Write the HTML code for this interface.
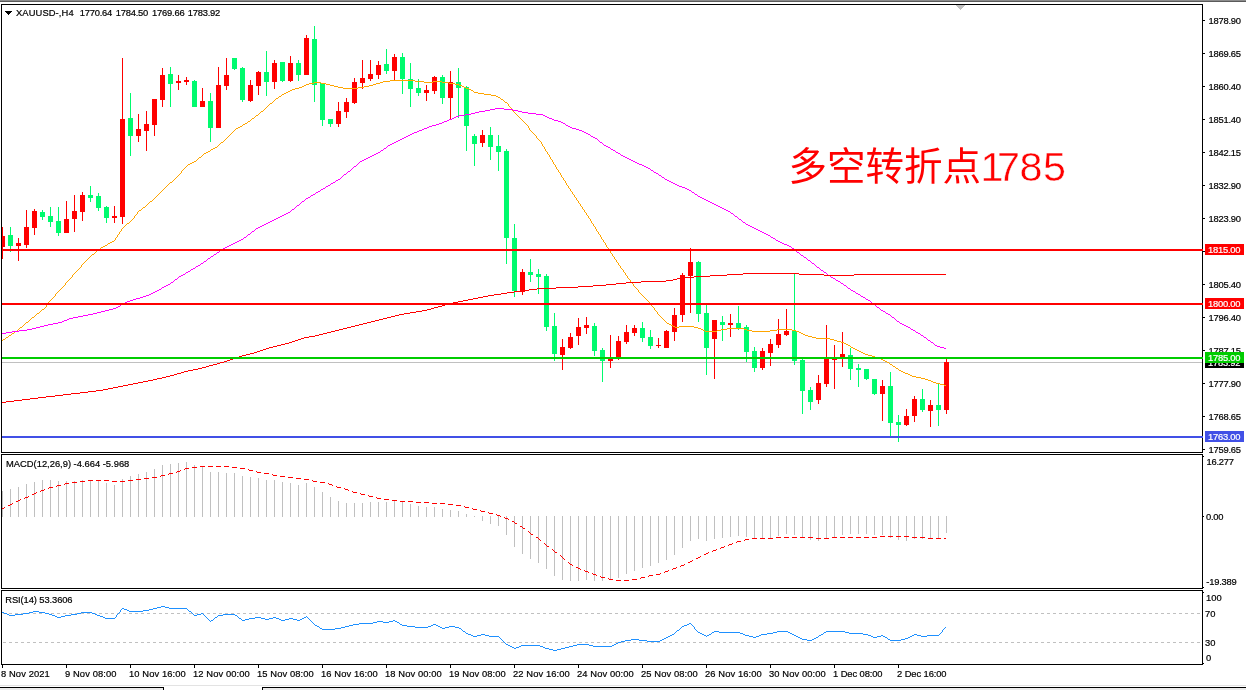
<!DOCTYPE html>
<html lang="zh"><head><meta charset="utf-8"><title>XAUUSD H4</title>
<style>html,body{margin:0;padding:0;background:#fff;overflow:hidden}svg{display:block}text{font-family:"Liberation Sans","Noto Sans CJK SC",sans-serif;font-size:9.37px;fill:#000;stroke:#000;stroke-width:0.2px}.n{letter-spacing:-0.22px}.w{fill:#fff;stroke:#fff;letter-spacing:-0.22px}.big{font-size:38px;fill:#ff0000;stroke:none;letter-spacing:0;font-family:"Liberation Sans","Noto Sans CJK SC",sans-serif;font-weight:400}</style></head><body>
<svg width="1246" height="690" viewBox="0 0 1246 690" style="will-change:transform">
<rect width="1246" height="690" fill="#fff"/>
<g shape-rendering="crispEdges">
<rect x="0" y="0" width="1246" height="1" fill="#8c8c8c"/>
<rect x="0" y="1" width="1246" height="1" fill="#5a5a5a"/>
<rect x="0" y="685" width="1246" height="1" fill="#e3e3e3"/>
<rect x="0" y="687" width="164" height="3" fill="#ececec"/>
<rect x="0" y="687" width="164" height="1" fill="#000"/>
<rect x="163" y="687" width="1" height="3" fill="#000"/>
<rect x="262" y="687" width="984" height="3" fill="#ececec"/>
<rect x="262" y="687" width="984" height="1" fill="#000"/>
<rect x="262" y="687" width="1" height="3" fill="#000"/>
<rect x="1" y="4" width="1202" height="1" fill="#000"/>
<rect x="1" y="452" width="1202" height="1" fill="#000"/>
<rect x="1" y="4" width="1" height="449" fill="#000"/>
<rect x="1202" y="4" width="1" height="449" fill="#000"/>
<rect x="1" y="454" width="1202" height="1" fill="#000"/>
<rect x="1" y="588" width="1202" height="1" fill="#000"/>
<rect x="1" y="454" width="1" height="135" fill="#000"/>
<rect x="1202" y="454" width="1" height="135" fill="#000"/>
<rect x="1" y="590" width="1202" height="1" fill="#000"/>
<rect x="1" y="664" width="1202" height="1" fill="#000"/>
<rect x="1" y="590" width="1" height="75" fill="#000"/>
<rect x="1202" y="590" width="1" height="75" fill="#000"/>
<rect x="956" y="5" width="9" height="1" fill="#c0c0c0"/>
<rect x="957" y="6" width="7" height="1" fill="#c0c0c0"/>
<rect x="958" y="7" width="5" height="1" fill="#c0c0c0"/>
<rect x="959" y="8" width="3" height="1" fill="#c0c0c0"/>
<rect x="960" y="9" width="1" height="1" fill="#c0c0c0"/>
<rect x="5" y="11" width="7" height="1" fill="#000"/>
<rect x="6" y="12" width="5" height="1" fill="#000"/>
<rect x="7" y="13" width="3" height="1" fill="#000"/>
<rect x="8" y="14" width="1" height="1" fill="#000"/>
<rect x="1203" y="20" width="2" height="1" fill="#000"/>
<rect x="1203" y="53" width="2" height="1" fill="#000"/>
<rect x="1203" y="86" width="2" height="1" fill="#000"/>
<rect x="1203" y="119" width="2" height="1" fill="#000"/>
<rect x="1203" y="152" width="2" height="1" fill="#000"/>
<rect x="1203" y="185" width="2" height="1" fill="#000"/>
<rect x="1203" y="218" width="2" height="1" fill="#000"/>
<rect x="1203" y="251" width="2" height="1" fill="#000"/>
<rect x="1203" y="284" width="2" height="1" fill="#000"/>
<rect x="1203" y="317" width="2" height="1" fill="#000"/>
<rect x="1203" y="350" width="2" height="1" fill="#000"/>
<rect x="1203" y="383" width="2" height="1" fill="#000"/>
<rect x="1203" y="416" width="2" height="1" fill="#000"/>
<rect x="1203" y="449" width="2" height="1" fill="#000"/>
<rect x="1203" y="456" width="1" height="1" fill="#000"/>
<rect x="1203" y="516" width="1" height="1" fill="#000"/>
<rect x="1203" y="587" width="1" height="1" fill="#000"/>
<rect x="1203" y="592" width="1" height="1" fill="#000"/>
<rect x="1203" y="663" width="1" height="1" fill="#000"/>
<rect x="2" y="665" width="1" height="3" fill="#000"/>
<rect x="66" y="665" width="1" height="3" fill="#000"/>
<rect x="130" y="665" width="1" height="3" fill="#000"/>
<rect x="194" y="665" width="1" height="3" fill="#000"/>
<rect x="258" y="665" width="1" height="3" fill="#000"/>
<rect x="322" y="665" width="1" height="3" fill="#000"/>
<rect x="386" y="665" width="1" height="3" fill="#000"/>
<rect x="450" y="665" width="1" height="3" fill="#000"/>
<rect x="514" y="665" width="1" height="3" fill="#000"/>
<rect x="578" y="665" width="1" height="3" fill="#000"/>
<rect x="642" y="665" width="1" height="3" fill="#000"/>
<rect x="706" y="665" width="1" height="3" fill="#000"/>
<rect x="770" y="665" width="1" height="3" fill="#000"/>
<rect x="834" y="665" width="1" height="3" fill="#000"/>
<rect x="898" y="665" width="1" height="3" fill="#000"/>
<rect x="2" y="362" width="1200" height="1" fill="#c0c0c0"/>
<rect x="2" y="227" width="1" height="32" fill="#ff0000"/>
<rect x="2" y="236" width="3" height="11" fill="#ff0000"/>
<rect x="10" y="227" width="1" height="25" fill="#00fb6e"/>
<rect x="8" y="235" width="5" height="11" fill="#00fb6e"/>
<rect x="18" y="238" width="1" height="23" fill="#ff0000"/>
<rect x="16" y="243" width="5" height="3" fill="#ff0000"/>
<rect x="26" y="210" width="1" height="38" fill="#ff0000"/>
<rect x="24" y="227" width="5" height="18" fill="#ff0000"/>
<rect x="34" y="209" width="1" height="26" fill="#ff0000"/>
<rect x="32" y="211" width="5" height="17" fill="#ff0000"/>
<rect x="42" y="210" width="1" height="10" fill="#00fb6e"/>
<rect x="40" y="212" width="5" height="5" fill="#00fb6e"/>
<rect x="50" y="207" width="1" height="20" fill="#00fb6e"/>
<rect x="48" y="216" width="5" height="6" fill="#00fb6e"/>
<rect x="58" y="207" width="1" height="29" fill="#00fb6e"/>
<rect x="56" y="221" width="5" height="12" fill="#00fb6e"/>
<rect x="66" y="201" width="1" height="32" fill="#ff0000"/>
<rect x="64" y="219" width="5" height="14" fill="#ff0000"/>
<rect x="74" y="195" width="1" height="37" fill="#ff0000"/>
<rect x="72" y="211" width="5" height="8" fill="#ff0000"/>
<rect x="82" y="192" width="1" height="29" fill="#ff0000"/>
<rect x="80" y="195" width="5" height="17" fill="#ff0000"/>
<rect x="90" y="186" width="1" height="16" fill="#00fb6e"/>
<rect x="88" y="195" width="5" height="3" fill="#00fb6e"/>
<rect x="98" y="193" width="1" height="18" fill="#00fb6e"/>
<rect x="96" y="196" width="5" height="12" fill="#00fb6e"/>
<rect x="106" y="206" width="1" height="17" fill="#00fb6e"/>
<rect x="104" y="207" width="5" height="11" fill="#00fb6e"/>
<rect x="114" y="206" width="1" height="17" fill="#ff0000"/>
<rect x="112" y="216" width="5" height="2" fill="#ff0000"/>
<rect x="122" y="58" width="1" height="166" fill="#ff0000"/>
<rect x="120" y="119" width="5" height="98" fill="#ff0000"/>
<rect x="130" y="93" width="1" height="63" fill="#00fb6e"/>
<rect x="128" y="118" width="5" height="18" fill="#00fb6e"/>
<rect x="138" y="114" width="1" height="28" fill="#ff0000"/>
<rect x="136" y="129" width="5" height="7" fill="#ff0000"/>
<rect x="146" y="111" width="1" height="40" fill="#ff0000"/>
<rect x="144" y="124" width="5" height="7" fill="#ff0000"/>
<rect x="154" y="99" width="1" height="37" fill="#ff0000"/>
<rect x="152" y="99" width="5" height="26" fill="#ff0000"/>
<rect x="162" y="68" width="1" height="39" fill="#ff0000"/>
<rect x="160" y="75" width="5" height="25" fill="#ff0000"/>
<rect x="170" y="67" width="1" height="40" fill="#00fb6e"/>
<rect x="168" y="74" width="5" height="10" fill="#00fb6e"/>
<rect x="178" y="75" width="1" height="15" fill="#ff0000"/>
<rect x="176" y="81" width="5" height="2" fill="#ff0000"/>
<rect x="186" y="77" width="1" height="8" fill="#ff0000"/>
<rect x="184" y="80" width="5" height="2" fill="#ff0000"/>
<rect x="194" y="80" width="1" height="27" fill="#00fb6e"/>
<rect x="192" y="81" width="5" height="26" fill="#00fb6e"/>
<rect x="202" y="88" width="1" height="19" fill="#ff0000"/>
<rect x="200" y="101" width="5" height="6" fill="#ff0000"/>
<rect x="210" y="93" width="1" height="49" fill="#00fb6e"/>
<rect x="208" y="101" width="5" height="27" fill="#00fb6e"/>
<rect x="218" y="67" width="1" height="61" fill="#ff0000"/>
<rect x="216" y="85" width="5" height="43" fill="#ff0000"/>
<rect x="226" y="58" width="1" height="32" fill="#ff0000"/>
<rect x="224" y="75" width="5" height="11" fill="#ff0000"/>
<rect x="234" y="58" width="1" height="12" fill="#00fb6e"/>
<rect x="232" y="58" width="5" height="11" fill="#00fb6e"/>
<rect x="242" y="67" width="1" height="35" fill="#00fb6e"/>
<rect x="240" y="68" width="5" height="32" fill="#00fb6e"/>
<rect x="250" y="80" width="1" height="22" fill="#ff0000"/>
<rect x="248" y="85" width="5" height="16" fill="#ff0000"/>
<rect x="258" y="71" width="1" height="24" fill="#ff0000"/>
<rect x="256" y="72" width="5" height="14" fill="#ff0000"/>
<rect x="266" y="51" width="1" height="45" fill="#00fb6e"/>
<rect x="264" y="72" width="5" height="10" fill="#00fb6e"/>
<rect x="274" y="60" width="1" height="29" fill="#ff0000"/>
<rect x="272" y="63" width="5" height="19" fill="#ff0000"/>
<rect x="282" y="62" width="1" height="20" fill="#00fb6e"/>
<rect x="280" y="62" width="5" height="19" fill="#00fb6e"/>
<rect x="290" y="56" width="1" height="26" fill="#ff0000"/>
<rect x="288" y="63" width="5" height="18" fill="#ff0000"/>
<rect x="298" y="60" width="1" height="21" fill="#00fb6e"/>
<rect x="296" y="63" width="5" height="12" fill="#00fb6e"/>
<rect x="306" y="35" width="1" height="40" fill="#ff0000"/>
<rect x="304" y="38" width="5" height="37" fill="#ff0000"/>
<rect x="314" y="26" width="1" height="76" fill="#00fb6e"/>
<rect x="312" y="39" width="5" height="46" fill="#00fb6e"/>
<rect x="322" y="83" width="1" height="43" fill="#00fb6e"/>
<rect x="320" y="83" width="5" height="37" fill="#00fb6e"/>
<rect x="330" y="119" width="1" height="8" fill="#00fb6e"/>
<rect x="328" y="119" width="5" height="5" fill="#00fb6e"/>
<rect x="338" y="102" width="1" height="25" fill="#ff0000"/>
<rect x="336" y="111" width="5" height="13" fill="#ff0000"/>
<rect x="346" y="98" width="1" height="20" fill="#ff0000"/>
<rect x="344" y="102" width="5" height="10" fill="#ff0000"/>
<rect x="354" y="78" width="1" height="26" fill="#ff0000"/>
<rect x="352" y="82" width="5" height="21" fill="#ff0000"/>
<rect x="362" y="60" width="1" height="29" fill="#ff0000"/>
<rect x="360" y="78" width="5" height="5" fill="#ff0000"/>
<rect x="370" y="60" width="1" height="21" fill="#ff0000"/>
<rect x="368" y="74" width="5" height="5" fill="#ff0000"/>
<rect x="378" y="61" width="1" height="18" fill="#ff0000"/>
<rect x="376" y="65" width="5" height="10" fill="#ff0000"/>
<rect x="386" y="49" width="1" height="25" fill="#00fb6e"/>
<rect x="384" y="64" width="5" height="7" fill="#00fb6e"/>
<rect x="394" y="54" width="1" height="26" fill="#ff0000"/>
<rect x="392" y="57" width="5" height="14" fill="#ff0000"/>
<rect x="402" y="53" width="1" height="41" fill="#00fb6e"/>
<rect x="400" y="57" width="5" height="22" fill="#00fb6e"/>
<rect x="410" y="63" width="1" height="44" fill="#00fb6e"/>
<rect x="408" y="79" width="5" height="10" fill="#00fb6e"/>
<rect x="418" y="79" width="1" height="17" fill="#00fb6e"/>
<rect x="416" y="88" width="5" height="5" fill="#00fb6e"/>
<rect x="426" y="85" width="1" height="16" fill="#ff0000"/>
<rect x="424" y="90" width="5" height="3" fill="#ff0000"/>
<rect x="434" y="76" width="1" height="18" fill="#ff0000"/>
<rect x="432" y="77" width="5" height="14" fill="#ff0000"/>
<rect x="442" y="75" width="1" height="29" fill="#00fb6e"/>
<rect x="440" y="77" width="5" height="21" fill="#00fb6e"/>
<rect x="450" y="71" width="1" height="48" fill="#ff0000"/>
<rect x="448" y="82" width="5" height="16" fill="#ff0000"/>
<rect x="458" y="68" width="1" height="50" fill="#00fb6e"/>
<rect x="456" y="82" width="5" height="6" fill="#00fb6e"/>
<rect x="466" y="86" width="1" height="65" fill="#00fb6e"/>
<rect x="464" y="87" width="5" height="39" fill="#00fb6e"/>
<rect x="474" y="134" width="1" height="32" fill="#00fb6e"/>
<rect x="472" y="136" width="5" height="8" fill="#00fb6e"/>
<rect x="482" y="130" width="1" height="17" fill="#ff0000"/>
<rect x="480" y="135" width="5" height="8" fill="#ff0000"/>
<rect x="490" y="127" width="1" height="33" fill="#00fb6e"/>
<rect x="488" y="135" width="5" height="12" fill="#00fb6e"/>
<rect x="498" y="135" width="1" height="36" fill="#00fb6e"/>
<rect x="496" y="146" width="5" height="6" fill="#00fb6e"/>
<rect x="506" y="149" width="1" height="115" fill="#00fb6e"/>
<rect x="504" y="151" width="5" height="87" fill="#00fb6e"/>
<rect x="514" y="224" width="1" height="73" fill="#00fb6e"/>
<rect x="512" y="238" width="5" height="53" fill="#00fb6e"/>
<rect x="522" y="269" width="1" height="26" fill="#ff0000"/>
<rect x="520" y="272" width="5" height="20" fill="#ff0000"/>
<rect x="530" y="259" width="1" height="23" fill="#00fb6e"/>
<rect x="528" y="272" width="5" height="3" fill="#00fb6e"/>
<rect x="538" y="269" width="1" height="25" fill="#00fb6e"/>
<rect x="536" y="274" width="5" height="3" fill="#00fb6e"/>
<rect x="546" y="274" width="1" height="57" fill="#00fb6e"/>
<rect x="544" y="276" width="5" height="51" fill="#00fb6e"/>
<rect x="554" y="313" width="1" height="48" fill="#00fb6e"/>
<rect x="552" y="326" width="5" height="28" fill="#00fb6e"/>
<rect x="562" y="339" width="1" height="31" fill="#ff0000"/>
<rect x="560" y="347" width="5" height="8" fill="#ff0000"/>
<rect x="570" y="333" width="1" height="16" fill="#ff0000"/>
<rect x="568" y="337" width="5" height="11" fill="#ff0000"/>
<rect x="578" y="318" width="1" height="27" fill="#ff0000"/>
<rect x="576" y="327" width="5" height="9" fill="#ff0000"/>
<rect x="586" y="317" width="1" height="17" fill="#ff0000"/>
<rect x="584" y="325" width="5" height="3" fill="#ff0000"/>
<rect x="594" y="323" width="1" height="33" fill="#00fb6e"/>
<rect x="592" y="326" width="5" height="25" fill="#00fb6e"/>
<rect x="602" y="348" width="1" height="34" fill="#00fb6e"/>
<rect x="600" y="350" width="5" height="11" fill="#00fb6e"/>
<rect x="610" y="335" width="1" height="33" fill="#ff0000"/>
<rect x="608" y="359" width="5" height="2" fill="#ff0000"/>
<rect x="618" y="336" width="1" height="24" fill="#ff0000"/>
<rect x="616" y="341" width="5" height="18" fill="#ff0000"/>
<rect x="626" y="325" width="1" height="19" fill="#ff0000"/>
<rect x="624" y="332" width="5" height="10" fill="#ff0000"/>
<rect x="634" y="325" width="1" height="11" fill="#ff0000"/>
<rect x="632" y="328" width="5" height="5" fill="#ff0000"/>
<rect x="642" y="322" width="1" height="20" fill="#00fb6e"/>
<rect x="640" y="328" width="5" height="10" fill="#00fb6e"/>
<rect x="650" y="330" width="1" height="19" fill="#00fb6e"/>
<rect x="648" y="337" width="5" height="9" fill="#00fb6e"/>
<rect x="658" y="338" width="1" height="10" fill="#ff0000"/>
<rect x="656" y="345" width="5" height="1" fill="#ff0000"/>
<rect x="666" y="330" width="1" height="18" fill="#ff0000"/>
<rect x="664" y="331" width="5" height="17" fill="#ff0000"/>
<rect x="674" y="308" width="1" height="33" fill="#ff0000"/>
<rect x="672" y="315" width="5" height="17" fill="#ff0000"/>
<rect x="682" y="273" width="1" height="49" fill="#ff0000"/>
<rect x="680" y="275" width="5" height="40" fill="#ff0000"/>
<rect x="690" y="248" width="1" height="65" fill="#ff0000"/>
<rect x="688" y="262" width="5" height="14" fill="#ff0000"/>
<rect x="698" y="261" width="1" height="61" fill="#00fb6e"/>
<rect x="696" y="262" width="5" height="52" fill="#00fb6e"/>
<rect x="706" y="305" width="1" height="70" fill="#00fb6e"/>
<rect x="704" y="313" width="5" height="35" fill="#00fb6e"/>
<rect x="714" y="320" width="1" height="59" fill="#ff0000"/>
<rect x="712" y="320" width="5" height="19" fill="#ff0000"/>
<rect x="722" y="316" width="1" height="25" fill="#00fb6e"/>
<rect x="720" y="322" width="5" height="3" fill="#00fb6e"/>
<rect x="730" y="314" width="1" height="23" fill="#ff0000"/>
<rect x="728" y="323" width="5" height="2" fill="#ff0000"/>
<rect x="738" y="306" width="1" height="24" fill="#00fb6e"/>
<rect x="736" y="323" width="5" height="5" fill="#00fb6e"/>
<rect x="746" y="325" width="1" height="37" fill="#00fb6e"/>
<rect x="744" y="327" width="5" height="25" fill="#00fb6e"/>
<rect x="754" y="347" width="1" height="25" fill="#00fb6e"/>
<rect x="752" y="351" width="5" height="17" fill="#00fb6e"/>
<rect x="762" y="348" width="1" height="22" fill="#ff0000"/>
<rect x="760" y="351" width="5" height="17" fill="#ff0000"/>
<rect x="770" y="339" width="1" height="27" fill="#ff0000"/>
<rect x="768" y="344" width="5" height="9" fill="#ff0000"/>
<rect x="778" y="319" width="1" height="29" fill="#ff0000"/>
<rect x="776" y="334" width="5" height="11" fill="#ff0000"/>
<rect x="786" y="309" width="1" height="27" fill="#ff0000"/>
<rect x="784" y="331" width="5" height="4" fill="#ff0000"/>
<rect x="794" y="274" width="1" height="91" fill="#00fb6e"/>
<rect x="792" y="331" width="5" height="30" fill="#00fb6e"/>
<rect x="802" y="359" width="1" height="55" fill="#00fb6e"/>
<rect x="800" y="360" width="5" height="31" fill="#00fb6e"/>
<rect x="810" y="387" width="1" height="23" fill="#00fb6e"/>
<rect x="808" y="390" width="5" height="12" fill="#00fb6e"/>
<rect x="818" y="375" width="1" height="29" fill="#ff0000"/>
<rect x="816" y="383" width="5" height="17" fill="#ff0000"/>
<rect x="826" y="325" width="1" height="62" fill="#ff0000"/>
<rect x="824" y="357" width="5" height="27" fill="#ff0000"/>
<rect x="834" y="345" width="1" height="44" fill="#ff0000"/>
<rect x="832" y="359" width="5" height="1" fill="#ff0000"/>
<rect x="842" y="332" width="1" height="35" fill="#ff0000"/>
<rect x="840" y="354" width="5" height="3" fill="#ff0000"/>
<rect x="850" y="348" width="1" height="32" fill="#00fb6e"/>
<rect x="848" y="355" width="5" height="14" fill="#00fb6e"/>
<rect x="858" y="364" width="1" height="23" fill="#00fb6e"/>
<rect x="856" y="368" width="5" height="2" fill="#00fb6e"/>
<rect x="866" y="369" width="1" height="11" fill="#00fb6e"/>
<rect x="864" y="369" width="5" height="10" fill="#00fb6e"/>
<rect x="874" y="379" width="1" height="16" fill="#00fb6e"/>
<rect x="872" y="379" width="5" height="15" fill="#00fb6e"/>
<rect x="882" y="380" width="1" height="41" fill="#ff0000"/>
<rect x="880" y="386" width="5" height="8" fill="#ff0000"/>
<rect x="890" y="372" width="1" height="66" fill="#00fb6e"/>
<rect x="888" y="386" width="5" height="37" fill="#00fb6e"/>
<rect x="898" y="415" width="1" height="27" fill="#00fb6e"/>
<rect x="896" y="422" width="5" height="3" fill="#00fb6e"/>
<rect x="906" y="409" width="1" height="17" fill="#ff0000"/>
<rect x="904" y="416" width="5" height="9" fill="#ff0000"/>
<rect x="914" y="396" width="1" height="26" fill="#ff0000"/>
<rect x="912" y="399" width="5" height="17" fill="#ff0000"/>
<rect x="922" y="389" width="1" height="23" fill="#00fb6e"/>
<rect x="920" y="399" width="5" height="11" fill="#00fb6e"/>
<rect x="930" y="400" width="1" height="27" fill="#ff0000"/>
<rect x="928" y="405" width="5" height="6" fill="#ff0000"/>
<rect x="938" y="384" width="1" height="42" fill="#00fb6e"/>
<rect x="936" y="405" width="5" height="5" fill="#00fb6e"/>
<rect x="946" y="359" width="1" height="55" fill="#ff0000"/>
<rect x="944" y="362" width="5" height="48" fill="#ff0000"/>
</g>
<path fill="none" stroke="#ffa500" stroke-width="1" shape-rendering="crispEdges" d="M18 329.5h1M701 329.5h2M721 329.5h6M744 329.5h3M777 329.5h15M15 331.5h2M705 331.5h12M752 331.5h18M796 331.5h3M63 286.5h1M634 286.5h1M851 347.5h2M197 159.5h1M551 159.5h1M859 351.5h2M390 80.5h25M306 84.5h3M326 84.5h4M373 84.5h3M455 84.5h4M188 164.5h2M554 164.5h1M224 140.5h1M539 140.5h1M256 115.5h2M517 115.5h1M17 330.5h1M703 330.5h2M717 330.5h4M747 330.5h5M770 330.5h7M792 330.5h4M295 88.5h4M343 88.5h15M466 88.5h3M227 137.5h1M536 137.5h1M314 82.5h7M380 82.5h3M424 82.5h9M442 82.5h7M183 169.5h1M557 169.5h1M278 97.5h1M498 97.5h2M284 93.5h2M478 93.5h6M103 246.5h2M606 246.5h1M136 214.5h1M586 214.5h1M270 103.5h2M507 103.5h1M309 83.5h5M321 83.5h5M376 83.5h4M449 83.5h6M844 343.5h2M199 157.5h2M550 157.5h1M290 90.5h2M471 90.5h2M118 234.5h1M599 234.5h1M52 298.5h1M645 298.5h1M855 349.5h2M72 276.5h1M627 276.5h1M178 175.5h1M561 175.5h1M848 345.5h2M143 207.5h2M582 207.5h1M131 220.5h1M590 220.5h1M119 233.5h1M598 233.5h1M274 100.5h1M503 100.5h1M81 265.5h1M619 265.5h1M936 383.5h4M177 176.5h1M561 176.5h1M247 122.5h1M524 122.5h1M286 92.5h2M474 92.5h4M868 355.5h4M281 95.5h1M491 95.5h5M22 326.5h1M673 326.5h2M679 326.5h15M47 304.5h1M651 304.5h1M76 271.5h1M623 271.5h1M299 87.5h3M338 87.5h5M358 87.5h6M464 87.5h2M267 106.5h1M509 106.5h1M83 263.5h1M618 263.5h1M872 356.5h3M204 153.5h2M547 153.5h1M250 120.5h1M522 120.5h1M266 107.5h1M510 107.5h1M126 224.5h1M593 224.5h1M161 191.5h1M571 191.5h1M383 81.5h7M415 81.5h9M433 81.5h9M8 336.5h1M808 336.5h4M35 315.5h1M659 315.5h1M875 357.5h4M24 324.5h1M669 324.5h2M890 364.5h2M64 285.5h1M633 285.5h1M12 333.5h2M801 333.5h2M304 85.5h2M330 85.5h4M369 85.5h4M459 85.5h3M23 325.5h1M671 325.5h2M19 328.5h1M698 328.5h3M727 328.5h17M55 294.5h1M641 294.5h1M192 162.5h2M553 162.5h1M145 206.5h1M581 206.5h1M180 173.5h1M560 173.5h1M20 327.5h2M675 327.5h4M694 327.5h4M885 361.5h2M165 187.5h1M568 187.5h1M82 264.5h1M618 264.5h1M202 155.5h1M549 155.5h1M6 337.5h2M812 337.5h4M26 322.5h2M666 322.5h1M137 213.5h1M586 213.5h1M5 338.5h1M816 338.5h14M893 366.5h2M75 272.5h1M624 272.5h1M916 377.5h5M282 94.5h2M484 94.5h7M132 219.5h1M590 219.5h1M889 363.5h1M242 125.5h1M527 125.5h1M881 359.5h2M133 218.5h1M589 218.5h1M70 278.5h1M628 278.5h1M234 130.5h1M530 130.5h1M90 256.5h1M613 256.5h1M265 108.5h1M511 108.5h1M254 117.5h1M519 117.5h1M65 284.5h1M633 284.5h1M47 303.5h1M650 303.5h1M168 184.5h1M566 184.5h1M231 133.5h1M533 133.5h1M94 253.5h1M611 253.5h1M258 114.5h1M516 114.5h1M114 240.5h1M603 240.5h1M172 181.5h1M565 181.5h1M105 245.5h2M606 245.5h1M179 174.5h1M560 174.5h1M130 221.5h1M591 221.5h1M174 179.5h1M563 179.5h1M261 111.5h2M513 111.5h1M292 89.5h3M469 89.5h2M31 318.5h1M662 318.5h1M121 230.5h1M596 230.5h1M229 135.5h1M535 135.5h1M185 167.5h1M556 167.5h1M173 180.5h1M564 180.5h1M137 212.5h1M585 212.5h1M921 378.5h4M125 225.5h1M593 225.5h1M156 196.5h1M574 196.5h1M190 163.5h2M553 163.5h1M933 382.5h3M53 297.5h1M644 297.5h1M925 379.5h3M149 202.5h1M578 202.5h1M215 147.5h2M544 147.5h1M302 86.5h2M334 86.5h4M364 86.5h5M462 86.5h2M238 127.5h2M528 127.5h1M899 370.5h2M263 110.5h1M512 110.5h1M46 305.5h1M651 305.5h1M288 91.5h2M473 91.5h1M230 134.5h1M534 134.5h1M67 281.5h1M630 281.5h1M110 242.5h2M604 242.5h1M101 247.5h2M607 247.5h1M181 172.5h1M559 172.5h1M269 104.5h1M508 104.5h1M167 185.5h1M567 185.5h1M903 372.5h2M42 309.5h2M654 309.5h1M3 339.5h2M830 339.5h4M127 223.5h2M592 223.5h1M62 287.5h1M635 287.5h1M162 190.5h1M570 190.5h1M85 261.5h1M616 261.5h1M39 312.5h1M657 312.5h1M175 178.5h1M563 178.5h1M139 210.5h2M584 210.5h1M273 101.5h1M504 101.5h1M117 236.5h1M600 236.5h1M187 165.5h1M555 165.5h1M121 229.5h1M596 229.5h1M79 268.5h1M621 268.5h1M112 241.5h2M603 241.5h1M206 152.5h2M547 152.5h1M272 102.5h1M505 102.5h2M219 144.5h1M542 144.5h1M73 274.5h1M625 274.5h1M211 149.5h2M545 149.5h1M203 154.5h1M548 154.5h1M279 96.5h2M496 96.5h2M150 201.5h2M578 201.5h1M61 288.5h1M636 288.5h1M54 296.5h1M643 296.5h1M9 335.5h2M805 335.5h3M905 373.5h3M11 334.5h1M803 334.5h2M51 299.5h1M646 299.5h1M910 375.5h2M32 317.5h2M661 317.5h1M46 306.5h1M652 306.5h1M226 138.5h1M537 138.5h1M169 183.5h1M566 183.5h1M122 228.5h1M595 228.5h1M861 352.5h2M853 348.5h2M865 354.5h3M134 216.5h1M588 216.5h1M895 367.5h1M163 189.5h1M570 189.5h1M260 112.5h1M514 112.5h1M81 266.5h1M620 266.5h1M940 384.5h4M2 340.5h1M834 340.5h3M248 121.5h2M523 121.5h1M240 126.5h2M528 126.5h1M89 257.5h1M614 257.5h1M252 118.5h2M520 118.5h1M850 346.5h1M857 350.5h2M57 292.5h1M639 292.5h1M243 124.5h2M526 124.5h1M77 270.5h1M623 270.5h1M276 98.5h2M500 98.5h1M912 376.5h4M182 170.5h1M558 170.5h1M217 146.5h1M543 146.5h1M34 316.5h1M660 316.5h1M30 319.5h1M663 319.5h1M164 188.5h1M569 188.5h1M117 235.5h1M600 235.5h1M120 231.5h1M597 231.5h1M846 344.5h2M944 385.5h2M158 194.5h1M573 194.5h1M837 341.5h4M124 226.5h1M594 226.5h1M92 254.5h2M612 254.5h1M49 301.5h1M648 301.5h1M135 215.5h1M587 215.5h1M69 279.5h1M629 279.5h1M170 182.5h2M565 182.5h1M233 131.5h1M531 131.5h1M264 109.5h1M511 109.5h1M123 227.5h1M595 227.5h1M25 323.5h1M667 323.5h2M841 342.5h3M245 123.5h2M525 123.5h1M235 129.5h1M529 129.5h1M108 243.5h2M605 243.5h1M236 128.5h2M529 128.5h1M208 151.5h2M546 151.5h1M201 156.5h1M549 156.5h1M45 307.5h1M653 307.5h1M37 313.5h2M657 313.5h1M213 148.5h2M544 148.5h1M883 360.5h2M228 136.5h1M536 136.5h1M259 113.5h1M515 113.5h1M115 238.5h1M601 238.5h1M194 161.5h2M552 161.5h1M72 275.5h1M626 275.5h1M96 251.5h1M610 251.5h1M119 232.5h1M598 232.5h1M115 239.5h1M602 239.5h1M887 362.5h2M879 358.5h2M100 248.5h1M608 248.5h1M71 277.5h1M627 277.5h1M87 259.5h1M615 259.5h1M58 291.5h1M638 291.5h1M41 310.5h1M655 310.5h1M928 380.5h3M159 193.5h1M572 193.5h1M186 166.5h1M555 166.5h1M155 197.5h1M575 197.5h1M221 142.5h2M541 142.5h1M166 186.5h1M568 186.5h1M153 199.5h1M576 199.5h1M107 244.5h1M605 244.5h1M28 321.5h1M665 321.5h1M98 249.5h2M608 249.5h1M138 211.5h1M584 211.5h1M251 119.5h1M521 119.5h1M116 237.5h1M601 237.5h1M97 250.5h1M609 250.5h1M78 269.5h1M622 269.5h1M142 208.5h1M582 208.5h1M56 293.5h1M640 293.5h1M146 205.5h1M580 205.5h1M275 99.5h1M501 99.5h2M60 289.5h1M637 289.5h1M84 262.5h1M617 262.5h1M59 290.5h1M638 290.5h1M134 217.5h1M588 217.5h1M931 381.5h2M160 192.5h1M572 192.5h1M255 116.5h1M518 116.5h1M91 255.5h1M612 255.5h1M223 141.5h1M540 141.5h1M184 168.5h1M556 168.5h1M196 160.5h1M552 160.5h1M181 171.5h1M558 171.5h1M908 374.5h2M901 371.5h2M225 139.5h1M538 139.5h1M14 332.5h1M799 332.5h2M48 302.5h1M649 302.5h1M863 353.5h2M95 252.5h1M610 252.5h1M896 368.5h2M218 145.5h1M542 145.5h1M198 158.5h1M550 158.5h1M148 203.5h1M579 203.5h1M74 273.5h1M625 273.5h1M36 314.5h1M658 314.5h1M157 195.5h1M574 195.5h1M176 177.5h1M562 177.5h1M892 365.5h1M210 150.5h1M545 150.5h1M55 295.5h1M642 295.5h1M152 200.5h1M577 200.5h1M129 222.5h1M591 222.5h1M66 282.5h1M631 282.5h1M86 260.5h1M616 260.5h1M44 308.5h1M654 308.5h1M220 143.5h1M541 143.5h1M141 209.5h1M583 209.5h1M88 258.5h1M614 258.5h1M268 105.5h1M508 105.5h1M50 300.5h1M647 300.5h1M65 283.5h1M632 283.5h1M232 132.5h1M532 132.5h1M68 280.5h1M630 280.5h1M154 198.5h1M576 198.5h1M29 320.5h1M664 320.5h1M147 204.5h1M580 204.5h1M80 267.5h1M620 267.5h1M40 311.5h1M656 311.5h1M898 369.5h1"/>
<path fill="none" stroke="#ff00ff" stroke-width="1" shape-rendering="crispEdges" d="M921 335.5h2M398 140.5h2M598 140.5h1M235 242.5h2M780 242.5h2M316 192.5h2M692 192.5h2M432 125.5h4M566 125.5h2M490 109.5h5M504 109.5h9M444 121.5h3M558 121.5h3M121 304.5h2M874 304.5h1M270 221.5h2M742 221.5h1M479 111.5h6M518 111.5h4M36 327.5h4M908 327.5h2M333 182.5h2M671 182.5h2M376 153.5h2M618 153.5h2M406 136.5h2M591 136.5h2M78 316.5h5M891 316.5h1M383 149.5h1M611 149.5h2M6 332.5h6M916 332.5h2M243 238.5h1M773 238.5h2M402 138.5h2M595 138.5h2M88 314.5h5M888 314.5h2M442 122.5h2M561 122.5h2M404 137.5h2M593 137.5h2M266 223.5h2M745 223.5h1M127 301.5h3M870 301.5h1M166 285.5h2M844 285.5h2M323 188.5h2M685 188.5h2M105 310.5h4M881 310.5h2M320 190.5h1M689 190.5h2M439 123.5h3M563 123.5h2M171 282.5h2M840 282.5h1M101 311.5h4M883 311.5h2M359 162.5h1M635 162.5h2M168 284.5h2M843 284.5h1M19 330.5h8M913 330.5h2M216 253.5h1M799 253.5h1M290 211.5h1M728 211.5h2M67 319.5h2M895 319.5h1M208 258.5h2M806 258.5h1M422 129.5h2M576 129.5h3M465 114.5h6M536 114.5h7M325 187.5h1M682 187.5h3M485 110.5h5M513 110.5h5M210 257.5h1M804 257.5h2M356 165.5h1M642 165.5h2M282 215.5h2M734 215.5h1M220 250.5h2M795 250.5h1M294 208.5h1M722 208.5h2M372 155.5h2M621 155.5h2M173 281.5h1M838 281.5h2M196 266.5h2M816 266.5h1M286 213.5h2M731 213.5h2M280 216.5h2M735 216.5h2M940 347.5h4M188 271.5h2M823 271.5h1M93 313.5h4M886 313.5h2M459 115.5h6M543 115.5h2M297 205.5h2M716 205.5h2M394 142.5h2M600 142.5h2M204 261.5h2M810 261.5h1M386 147.5h1M608 147.5h2M73 317.5h5M892 317.5h2M384 148.5h2M610 148.5h1M48 324.5h5M902 324.5h2M378 152.5h2M616 152.5h2M213 255.5h1M801 255.5h2M475 112.5h4M522 112.5h6M244 237.5h2M771 237.5h2M250 233.5h1M764 233.5h2M390 144.5h2M603 144.5h1M170 283.5h1M841 283.5h2M143 296.5h3M861 296.5h2M935 345.5h2M239 240.5h2M776 240.5h2M341 177.5h1M662 177.5h2M262 225.5h2M748 225.5h2M123 303.5h2M872 303.5h2M12 331.5h7M915 331.5h1M113 308.5h3M879 308.5h1M248 234.5h2M766 234.5h2M928 340.5h2M381 150.5h2M613 150.5h2M937 346.5h3M931 342.5h2M414 132.5h3M584 132.5h2M471 113.5h4M528 113.5h8M32 328.5h4M910 328.5h1M408 135.5h2M590 135.5h1M308 197.5h2M700 197.5h2M247 235.5h1M768 235.5h2M252 231.5h2M760 231.5h2M301 202.5h1M710 202.5h2M417 131.5h2M582 131.5h2M2 333.5h4M918 333.5h2M321 189.5h2M687 189.5h2M140 297.5h3M863 297.5h2M313 194.5h2M695 194.5h2M343 175.5h1M659 175.5h2M387 146.5h1M606 146.5h2M133 299.5h3M866 299.5h2M305 199.5h1M704 199.5h2M44 325.5h4M904 325.5h2M62 321.5h2M897 321.5h2M164 286.5h2M846 286.5h1M193 268.5h2M819 268.5h1M136 298.5h4M865 298.5h1M185 273.5h1M826 273.5h1M69 318.5h4M894 318.5h1M424 128.5h3M572 128.5h4M419 130.5h3M579 130.5h3M177 278.5h1M833 278.5h2M40 326.5h4M906 326.5h2M255 229.5h1M756 229.5h2M151 293.5h2M856 293.5h2M374 154.5h2M620 154.5h1M146 295.5h3M860 295.5h1M331 183.5h2M673 183.5h2M456 116.5h3M545 116.5h2M178 277.5h1M831 277.5h2M53 323.5h5M900 323.5h2M429 126.5h3M568 126.5h2M109 309.5h4M880 309.5h1M288 212.5h2M730 212.5h1M495 108.5h9M201 263.5h2M812 263.5h2M258 227.5h2M752 227.5h2M251 232.5h1M762 232.5h2M155 291.5h2M853 291.5h2M58 322.5h4M899 322.5h1M175 279.5h2M835 279.5h1M268 222.5h2M743 222.5h2M264 224.5h2M746 224.5h2M436 124.5h3M565 124.5h1M299 204.5h1M714 204.5h2M217 252.5h2M797 252.5h2M291 210.5h1M726 210.5h2M296 206.5h1M718 206.5h2M179 276.5h2M830 276.5h1M161 288.5h1M848 288.5h2M278 217.5h2M737 217.5h1M181 275.5h2M828 275.5h2M64 320.5h3M896 320.5h1M350 170.5h1M651 170.5h2M396 141.5h2M599 141.5h1M924 337.5h2M447 120.5h2M554 120.5h4M392 143.5h2M602 143.5h1M306 198.5h2M702 198.5h2M927 339.5h1M370 156.5h2M623 156.5h2M198 265.5h2M815 265.5h1M27 329.5h5M911 329.5h2M203 262.5h1M811 262.5h1M231 244.5h2M784 244.5h3M157 290.5h2M851 290.5h2M347 172.5h1M654 172.5h2M357 164.5h1M639 164.5h3M214 254.5h2M800 254.5h1M304 200.5h1M706 200.5h2M310 196.5h1M698 196.5h2M227 246.5h2M789 246.5h2M400 139.5h2M597 139.5h1M260 226.5h2M750 226.5h2M362 160.5h2M631 160.5h2M120 305.5h1M875 305.5h1M452 118.5h2M549 118.5h3M207 259.5h1M807 259.5h1M206 260.5h1M808 260.5h2M83 315.5h5M890 315.5h1M923 336.5h1M449 119.5h3M552 119.5h2M125 302.5h2M871 302.5h1M130 300.5h3M868 300.5h2M354 166.5h2M644 166.5h2M311 195.5h2M697 195.5h1M97 312.5h4M885 312.5h1M153 292.5h2M855 292.5h1M366 158.5h2M627 158.5h2M292 209.5h2M724 209.5h2M195 267.5h1M817 267.5h2M274 219.5h2M739 219.5h2M223 248.5h2M792 248.5h2M284 214.5h2M733 214.5h1M358 163.5h1M637 163.5h2M186 272.5h2M824 272.5h2M191 269.5h2M820 269.5h1M219 251.5h1M796 251.5h1M338 179.5h2M665 179.5h2M211 256.5h2M803 256.5h1M300 203.5h1M712 203.5h2M388 145.5h2M604 145.5h2M427 127.5h2M570 127.5h2M344 174.5h2M658 174.5h1M353 167.5h1M646 167.5h2M237 241.5h2M778 241.5h2M256 228.5h2M754 228.5h2M454 117.5h2M547 117.5h2M318 191.5h2M691 191.5h1M335 181.5h1M669 181.5h2M241 239.5h2M775 239.5h1M229 245.5h2M787 245.5h2M149 294.5h2M858 294.5h2M162 287.5h2M847 287.5h1M118 306.5h2M876 306.5h1M190 270.5h1M821 270.5h2M183 274.5h2M827 274.5h1M412 133.5h2M586 133.5h2M326 186.5h2M679 186.5h3M348 171.5h2M653 171.5h1M174 280.5h1M836 280.5h2M233 243.5h2M782 243.5h2M364 159.5h2M629 159.5h2M330 184.5h1M675 184.5h2M336 180.5h2M667 180.5h2M410 134.5h2M588 134.5h2M933 343.5h1M342 176.5h1M661 176.5h1M340 178.5h1M664 178.5h1M159 289.5h2M850 289.5h1M276 218.5h2M738 218.5h1M254 230.5h1M758 230.5h2M944 348.5h2M272 220.5h2M741 220.5h1M368 157.5h2M625 157.5h2M360 161.5h2M633 161.5h2M225 247.5h2M791 247.5h1M295 207.5h1M720 207.5h2M346 173.5h1M656 173.5h2M302 201.5h2M708 201.5h2M352 168.5h1M648 168.5h2M116 307.5h2M877 307.5h2M351 169.5h1M650 169.5h1M328 185.5h2M677 185.5h2M920 334.5h1M222 249.5h1M794 249.5h1M246 236.5h1M770 236.5h1M200 264.5h1M814 264.5h1M934 344.5h1M930 341.5h1M926 338.5h1M315 193.5h1M694 193.5h1M380 151.5h1M615 151.5h1"/>
<path fill="none" stroke="#ff0000" stroke-width="1" shape-rendering="crispEdges" d="M606 284.5h10M743 273.5h56M133 383.5h5M727 274.5h16M799 274.5h25M854 274.5h92M371 321.5h4M453 302.5h5M556 287.5h22M71 393.5h9M522 290.5h7M673 279.5h4M537 288.5h19M710 275.5h17M824 275.5h30M224 361.5h3M162 377.5h4M395 315.5h4M578 286.5h15M616 283.5h10M416 311.5h6M55 395.5h8M507 292.5h7M319 334.5h4M143 381.5h5M108 388.5h5M359 324.5h4M442 305.5h3M680 277.5h14M22 399.5h8M301 338.5h3M494 294.5h7M254 352.5h3M230 359.5h3M404 313.5h6M213 364.5h4M327 332.5h4M30 398.5h8M488 295.5h6M626 282.5h15M593 285.5h13M128 384.5h5M63 394.5h8M449 303.5h4M529 289.5h8M148 380.5h5M260 350.5h3M383 318.5h4M468 299.5h5M220 362.5h4M410 312.5h6M46 396.5h9M103 389.5h5M285 343.5h4M295 340.5h3M431 308.5h3M266 348.5h3M242 355.5h4M641 281.5h25M202 367.5h4M181 372.5h3M88 391.5h8M292 341.5h3M123 385.5h5M273 346.5h4M694 276.5h16M347 327.5h4M379 319.5h4M463 300.5h5M188 370.5h5M677 278.5h3M170 375.5h4M38 397.5h8M309 336.5h6M14 400.5h8M96 390.5h7M281 344.5h4M427 309.5h4M323 333.5h4M239 356.5h3M6 401.5h8M483 296.5h5M367 322.5h4M80 392.5h8M177 373.5h4M157 378.5h5M391 316.5h4M118 386.5h5M269 347.5h4M331 331.5h4M138 382.5h5M514 291.5h8M458 301.5h5M438 306.5h4M184 371.5h4M355 325.5h4M250 353.5h4M166 376.5h4M227 360.5h3M335 330.5h4M399 314.5h5M304 337.5h5M209 365.5h4M478 297.5h5M298 339.5h3M445 304.5h4M257 351.5h3M233 358.5h3M501 293.5h6M153 379.5h4M387 317.5h4M113 387.5h5M434 307.5h4M263 349.5h3M246 354.5h4M2 402.5h4M375 320.5h4M473 298.5h5M422 310.5h5M277 345.5h4M193 369.5h5M363 323.5h4M174 374.5h3M343 328.5h4M217 363.5h3M198 368.5h4M289 342.5h3M351 326.5h4M206 366.5h3M339 329.5h4M236 357.5h3M666 280.5h7M315 335.5h4"/>
<g shape-rendering="crispEdges">
<rect x="2" y="249" width="1201" height="2" fill="#ff0000"/>
<rect x="2" y="303" width="1201" height="2" fill="#ff0000"/>
<rect x="2" y="357" width="1201" height="2" fill="#00cc00"/>
<rect x="2" y="436" width="1201" height="2" fill="#4150e6"/>
<rect x="2" y="491" width="1" height="26" fill="#c0c0c0"/>
<rect x="10" y="489" width="1" height="28" fill="#c0c0c0"/>
<rect x="18" y="487" width="1" height="30" fill="#c0c0c0"/>
<rect x="26" y="484" width="1" height="33" fill="#c0c0c0"/>
<rect x="34" y="482" width="1" height="35" fill="#c0c0c0"/>
<rect x="42" y="480" width="1" height="37" fill="#c0c0c0"/>
<rect x="50" y="480" width="1" height="37" fill="#c0c0c0"/>
<rect x="58" y="481" width="1" height="36" fill="#c0c0c0"/>
<rect x="66" y="481" width="1" height="36" fill="#c0c0c0"/>
<rect x="74" y="481" width="1" height="36" fill="#c0c0c0"/>
<rect x="82" y="480" width="1" height="37" fill="#c0c0c0"/>
<rect x="90" y="480" width="1" height="37" fill="#c0c0c0"/>
<rect x="98" y="481" width="1" height="36" fill="#c0c0c0"/>
<rect x="106" y="483" width="1" height="34" fill="#c0c0c0"/>
<rect x="114" y="485" width="1" height="32" fill="#c0c0c0"/>
<rect x="122" y="479" width="1" height="38" fill="#c0c0c0"/>
<rect x="130" y="476" width="1" height="41" fill="#c0c0c0"/>
<rect x="138" y="474" width="1" height="43" fill="#c0c0c0"/>
<rect x="146" y="472" width="1" height="45" fill="#c0c0c0"/>
<rect x="154" y="469" width="1" height="48" fill="#c0c0c0"/>
<rect x="162" y="465" width="1" height="52" fill="#c0c0c0"/>
<rect x="170" y="464" width="1" height="53" fill="#c0c0c0"/>
<rect x="178" y="463" width="1" height="54" fill="#c0c0c0"/>
<rect x="186" y="462" width="1" height="55" fill="#c0c0c0"/>
<rect x="194" y="465" width="1" height="52" fill="#c0c0c0"/>
<rect x="202" y="466" width="1" height="51" fill="#c0c0c0"/>
<rect x="210" y="472" width="1" height="45" fill="#c0c0c0"/>
<rect x="218" y="472" width="1" height="45" fill="#c0c0c0"/>
<rect x="226" y="473" width="1" height="44" fill="#c0c0c0"/>
<rect x="234" y="473" width="1" height="44" fill="#c0c0c0"/>
<rect x="242" y="476" width="1" height="41" fill="#c0c0c0"/>
<rect x="250" y="477" width="1" height="40" fill="#c0c0c0"/>
<rect x="258" y="478" width="1" height="39" fill="#c0c0c0"/>
<rect x="266" y="480" width="1" height="37" fill="#c0c0c0"/>
<rect x="274" y="480" width="1" height="37" fill="#c0c0c0"/>
<rect x="282" y="482" width="1" height="35" fill="#c0c0c0"/>
<rect x="290" y="483" width="1" height="34" fill="#c0c0c0"/>
<rect x="298" y="485" width="1" height="32" fill="#c0c0c0"/>
<rect x="306" y="483" width="1" height="34" fill="#c0c0c0"/>
<rect x="314" y="487" width="1" height="30" fill="#c0c0c0"/>
<rect x="322" y="492" width="1" height="25" fill="#c0c0c0"/>
<rect x="330" y="497" width="1" height="20" fill="#c0c0c0"/>
<rect x="338" y="501" width="1" height="16" fill="#c0c0c0"/>
<rect x="346" y="503" width="1" height="14" fill="#c0c0c0"/>
<rect x="354" y="503" width="1" height="14" fill="#c0c0c0"/>
<rect x="362" y="503" width="1" height="14" fill="#c0c0c0"/>
<rect x="370" y="502" width="1" height="15" fill="#c0c0c0"/>
<rect x="378" y="502" width="1" height="15" fill="#c0c0c0"/>
<rect x="386" y="502" width="1" height="15" fill="#c0c0c0"/>
<rect x="394" y="501" width="1" height="16" fill="#c0c0c0"/>
<rect x="402" y="502" width="1" height="15" fill="#c0c0c0"/>
<rect x="410" y="504" width="1" height="13" fill="#c0c0c0"/>
<rect x="418" y="506" width="1" height="11" fill="#c0c0c0"/>
<rect x="426" y="507" width="1" height="10" fill="#c0c0c0"/>
<rect x="434" y="507" width="1" height="10" fill="#c0c0c0"/>
<rect x="442" y="509" width="1" height="8" fill="#c0c0c0"/>
<rect x="450" y="510" width="1" height="7" fill="#c0c0c0"/>
<rect x="458" y="511" width="1" height="6" fill="#c0c0c0"/>
<rect x="466" y="514" width="1" height="3" fill="#c0c0c0"/>
<rect x="474" y="516" width="1" height="1" fill="#c0c0c0"/>
<rect x="482" y="516" width="1" height="5" fill="#c0c0c0"/>
<rect x="490" y="516" width="1" height="8" fill="#c0c0c0"/>
<rect x="498" y="516" width="1" height="10" fill="#c0c0c0"/>
<rect x="506" y="516" width="1" height="19" fill="#c0c0c0"/>
<rect x="514" y="516" width="1" height="31" fill="#c0c0c0"/>
<rect x="522" y="516" width="1" height="38" fill="#c0c0c0"/>
<rect x="530" y="516" width="1" height="43" fill="#c0c0c0"/>
<rect x="538" y="516" width="1" height="47" fill="#c0c0c0"/>
<rect x="546" y="516" width="1" height="53" fill="#c0c0c0"/>
<rect x="554" y="516" width="1" height="60" fill="#c0c0c0"/>
<rect x="562" y="516" width="1" height="64" fill="#c0c0c0"/>
<rect x="570" y="516" width="1" height="65" fill="#c0c0c0"/>
<rect x="578" y="516" width="1" height="65" fill="#c0c0c0"/>
<rect x="586" y="516" width="1" height="64" fill="#c0c0c0"/>
<rect x="594" y="516" width="1" height="65" fill="#c0c0c0"/>
<rect x="602" y="516" width="1" height="65" fill="#c0c0c0"/>
<rect x="610" y="516" width="1" height="63" fill="#c0c0c0"/>
<rect x="618" y="516" width="1" height="62" fill="#c0c0c0"/>
<rect x="626" y="516" width="1" height="58" fill="#c0c0c0"/>
<rect x="634" y="516" width="1" height="55" fill="#c0c0c0"/>
<rect x="642" y="516" width="1" height="52" fill="#c0c0c0"/>
<rect x="650" y="516" width="1" height="50" fill="#c0c0c0"/>
<rect x="658" y="516" width="1" height="47" fill="#c0c0c0"/>
<rect x="666" y="516" width="1" height="44" fill="#c0c0c0"/>
<rect x="674" y="516" width="1" height="39" fill="#c0c0c0"/>
<rect x="682" y="516" width="1" height="32" fill="#c0c0c0"/>
<rect x="690" y="516" width="1" height="25" fill="#c0c0c0"/>
<rect x="698" y="516" width="1" height="23" fill="#c0c0c0"/>
<rect x="706" y="516" width="1" height="25" fill="#c0c0c0"/>
<rect x="714" y="516" width="1" height="23" fill="#c0c0c0"/>
<rect x="722" y="516" width="1" height="22" fill="#c0c0c0"/>
<rect x="730" y="516" width="1" height="21" fill="#c0c0c0"/>
<rect x="738" y="516" width="1" height="20" fill="#c0c0c0"/>
<rect x="746" y="516" width="1" height="21" fill="#c0c0c0"/>
<rect x="754" y="516" width="1" height="22" fill="#c0c0c0"/>
<rect x="762" y="516" width="1" height="22" fill="#c0c0c0"/>
<rect x="770" y="516" width="1" height="22" fill="#c0c0c0"/>
<rect x="778" y="516" width="1" height="20" fill="#c0c0c0"/>
<rect x="786" y="516" width="1" height="18" fill="#c0c0c0"/>
<rect x="794" y="516" width="1" height="19" fill="#c0c0c0"/>
<rect x="802" y="516" width="1" height="21" fill="#c0c0c0"/>
<rect x="810" y="516" width="1" height="24" fill="#c0c0c0"/>
<rect x="818" y="516" width="1" height="25" fill="#c0c0c0"/>
<rect x="826" y="516" width="1" height="23" fill="#c0c0c0"/>
<rect x="834" y="516" width="1" height="21" fill="#c0c0c0"/>
<rect x="842" y="516" width="1" height="19" fill="#c0c0c0"/>
<rect x="850" y="516" width="1" height="18" fill="#c0c0c0"/>
<rect x="858" y="516" width="1" height="18" fill="#c0c0c0"/>
<rect x="866" y="516" width="1" height="18" fill="#c0c0c0"/>
<rect x="874" y="516" width="1" height="19" fill="#c0c0c0"/>
<rect x="882" y="516" width="1" height="19" fill="#c0c0c0"/>
<rect x="890" y="516" width="1" height="22" fill="#c0c0c0"/>
<rect x="898" y="516" width="1" height="24" fill="#c0c0c0"/>
<rect x="906" y="516" width="1" height="25" fill="#c0c0c0"/>
<rect x="914" y="516" width="1" height="23" fill="#c0c0c0"/>
<rect x="922" y="516" width="1" height="23" fill="#c0c0c0"/>
<rect x="930" y="516" width="1" height="22" fill="#c0c0c0"/>
<rect x="938" y="516" width="1" height="22" fill="#c0c0c0"/>
<rect x="946" y="516" width="1" height="17" fill="#c0c0c0"/>
<line x1="3" y1="613.5" x2="1202" y2="613.5" stroke="#c0c0c0" stroke-width="1" stroke-dasharray="3,3"/>
<line x1="3" y1="642.5" x2="1202" y2="642.5" stroke="#c0c0c0" stroke-width="1" stroke-dasharray="3,3"/>
</g>
<path fill="none" stroke="#ff0000" stroke-width="1" shape-rendering="crispEdges" d="M28 496.5h1M369 496.5h4M538 538.5h1M752 538.5h5M760 538.5h5M768 538.5h5M816 538.5h5M824 538.5h5M928 538.5h5M936 538.5h5M944 538.5h2M536 537.5h2M776 537.5h5M784 537.5h5M792 537.5h5M800 537.5h5M808 537.5h5M832 537.5h5M840 537.5h5M848 537.5h5M856 537.5h5M864 537.5h5M872 537.5h5M912 537.5h5M920 537.5h5M572 565.5h1M681 565.5h3M88 480.5h5M96 480.5h5M104 480.5h5M128 480.5h5M312 480.5h1M136 479.5h5M304 479.5h5M200 466.5h5M208 466.5h5M216 466.5h5M224 466.5h5M192 467.5h5M232 467.5h5M185 468.5h4M240 468.5h5M505 518.5h3M169 473.5h4M264 473.5h5M16 501.5h2M400 501.5h5M408 501.5h5M12 503.5h1M432 503.5h5M440 503.5h5M80 481.5h5M112 481.5h5M120 481.5h5M313 481.5h4M706 553.5h2M72 482.5h5M320 482.5h5M10 504.5h2M448 504.5h5M20 499.5h1M384 499.5h5M601 577.5h4M641 577.5h4M512 521.5h2M180 470.5h1M249 470.5h4M737 541.5h4M24 498.5h1M377 498.5h4M609 579.5h4M632 579.5h5M184 469.5h1M248 469.5h1M578 568.5h2M673 568.5h3M57 485.5h4M332 485.5h1M880 536.5h5M888 536.5h5M896 536.5h5M904 536.5h5M161 475.5h4M273 475.5h4M25 497.5h3M376 497.5h1M531 534.5h2M160 476.5h1M280 476.5h5M561 556.5h1M700 556.5h1M36 492.5h1M353 492.5h4M568 562.5h1M688 562.5h2M44 489.5h1M345 489.5h3M65 483.5h4M328 483.5h1M547 546.5h2M724 546.5h1M2 508.5h2M472 508.5h1M546 545.5h1M728 545.5h1M416 502.5h5M424 502.5h5M176 472.5h1M257 472.5h4M41 490.5h3M348 490.5h1M555 552.5h2M708 552.5h1M8 505.5h2M456 505.5h5M553 550.5h1M713 550.5h3M34 493.5h2M360 493.5h1M596 575.5h1M649 575.5h4M144 478.5h5M296 478.5h5M539 539.5h1M745 539.5h4M18 500.5h2M392 500.5h5M32 494.5h2M361 494.5h4M720 548.5h1M523 528.5h2M473 509.5h4M616 580.5h5M624 580.5h5M56 486.5h1M336 486.5h1M593 574.5h3M656 574.5h4M64 484.5h1M329 484.5h3M585 571.5h3M665 571.5h3M152 477.5h5M288 477.5h5M704 554.5h2M4 507.5h1M465 507.5h4M560 555.5h1M489 513.5h4M570 564.5h2M684 564.5h1M545 544.5h1M729 544.5h3M177 471.5h3M256 471.5h1M49 487.5h4M337 487.5h4M563 558.5h1M696 558.5h2M40 491.5h1M352 491.5h1M522 527.5h1M552 549.5h1M716 549.5h1M580 569.5h1M672 569.5h1M515 523.5h2M497 515.5h3M600 576.5h1M648 576.5h1M500 516.5h1M48 488.5h1M344 488.5h1M721 547.5h3M692 560.5h1M496 514.5h1M514 522.5h1M480 510.5h1M562 557.5h1M698 557.5h2M481 511.5h4M584 570.5h1M668 570.5h1M736 542.5h1M528 531.5h1M464 506.5h1M576 567.5h2M676 567.5h1M690 561.5h2M608 578.5h1M640 578.5h1M588 572.5h1M664 572.5h1M569 563.5h1M520 526.5h2M540 540.5h1M744 540.5h1M168 474.5h1M272 474.5h1M544 543.5h1M732 543.5h1M554 551.5h1M712 551.5h1M368 495.5h1M504 517.5h1M564 559.5h1M508 519.5h1M530 533.5h1M529 532.5h1M680 566.5h1M488 512.5h1M592 573.5h1M660 573.5h1"/>
<path fill="none" stroke="#1e90ff" stroke-width="1" shape-rendering="crispEdges" d="M503 641.5h1M621 641.5h4M647 641.5h13M466 633.5h2M674 633.5h1M700 633.5h2M711 633.5h1M740 633.5h3M767 633.5h6M790 633.5h2M823 633.5h1M849 633.5h14M940 633.5h1M105 618.5h10M207 618.5h1M214 618.5h1M239 618.5h2M249 618.5h6M261 618.5h4M269 618.5h4M276 618.5h3M289 618.5h4M302 618.5h2M308 618.5h1M463 631.5h2M676 631.5h1M697 631.5h1M714 631.5h5M777 631.5h11M826 631.5h19M942 631.5h1M2 612.5h2M29 612.5h4M39 612.5h6M81 612.5h11M119 612.5h1M191 612.5h1M7 614.5h2M15 614.5h8M49 614.5h3M71 614.5h6M95 614.5h2M117 614.5h1M193 614.5h1M197 614.5h4M203 614.5h1M223 614.5h12M57 617.5h4M103 617.5h2M115 617.5h1M206 617.5h1M215 617.5h2M238 617.5h1M255 617.5h6M273 617.5h3M304 617.5h2M307 617.5h1M510 646.5h2M519 646.5h2M540 646.5h3M569 646.5h4M593 646.5h19M473 636.5h4M489 636.5h10M668 636.5h2M706 636.5h1M749 636.5h4M756 636.5h3M796 636.5h2M818 636.5h1M871 636.5h2M877 636.5h4M883 636.5h2M910 636.5h2M921 636.5h6M317 626.5h2M345 626.5h4M407 626.5h8M428 626.5h3M438 626.5h2M449 626.5h6M682 626.5h2M693 626.5h1M471 635.5h2M477 635.5h4M485 635.5h4M670 635.5h2M704 635.5h2M707 635.5h2M745 635.5h4M759 635.5h2M794 635.5h2M819 635.5h2M868 635.5h3M881 635.5h2M912 635.5h2M917 635.5h4M927 635.5h12M9 615.5h6M52 615.5h3M65 615.5h6M97 615.5h3M116 615.5h1M194 615.5h3M204 615.5h1M218 615.5h5M235 615.5h2M502 640.5h1M625 640.5h6M639 640.5h8M660 640.5h2M807 640.5h5M890 640.5h11M508 645.5h2M521 645.5h19M573 645.5h4M589 645.5h4M612 645.5h2M322 629.5h13M461 629.5h1M679 629.5h1M695 629.5h1M943 629.5h1M4 613.5h3M23 613.5h6M45 613.5h4M77 613.5h4M92 613.5h3M118 613.5h1M192 613.5h1M201 613.5h2M319 627.5h1M341 627.5h4M415 627.5h13M440 627.5h2M445 627.5h4M455 627.5h4M681 627.5h1M694 627.5h1M945 627.5h1M161 606.5h4M122 608.5h2M153 608.5h4M169 608.5h18M501 639.5h1M631 639.5h8M662 639.5h2M802 639.5h5M812 639.5h2M888 639.5h2M901 639.5h4M465 632.5h1M675 632.5h1M698 632.5h2M712 632.5h2M719 632.5h21M773 632.5h4M788 632.5h2M824 632.5h2M845 632.5h4M941 632.5h1M313 623.5h1M359 623.5h14M399 623.5h1M689 623.5h2M512 647.5h2M516 647.5h3M543 647.5h2M565 647.5h4M499 637.5h1M666 637.5h2M753 637.5h3M798 637.5h2M816 637.5h2M873 637.5h4M885 637.5h2M908 637.5h2M55 616.5h2M61 616.5h4M100 616.5h3M116 616.5h1M205 616.5h1M217 616.5h1M237 616.5h1M306 616.5h1M315 625.5h2M349 625.5h4M402 625.5h5M431 625.5h2M436 625.5h2M684 625.5h3M692 625.5h1M121 609.5h1M124 609.5h3M149 609.5h4M187 609.5h1M504 642.5h1M618 642.5h3M314 624.5h1M353 624.5h6M400 624.5h2M433 624.5h3M687 624.5h2M691 624.5h1M506 644.5h2M577 644.5h12M614 644.5h2M468 634.5h3M481 634.5h4M672 634.5h2M702 634.5h2M709 634.5h2M743 634.5h2M761 634.5h6M792 634.5h2M821 634.5h2M863 634.5h5M914 634.5h3M939 634.5h1M312 622.5h1M373 622.5h4M383 622.5h6M397 622.5h2M33 611.5h6M120 611.5h1M129 611.5h14M189 611.5h2M462 630.5h1M677 630.5h2M696 630.5h1M942 630.5h1M209 620.5h1M211 620.5h2M242 620.5h3M281 620.5h4M297 620.5h3M310 620.5h1M393 620.5h2M157 607.5h4M165 607.5h4M320 628.5h2M335 628.5h6M442 628.5h3M459 628.5h2M680 628.5h1M694 628.5h1M944 628.5h1M549 649.5h4M557 649.5h4M210 621.5h1M311 621.5h1M377 621.5h6M389 621.5h4M395 621.5h2M505 643.5h1M616 643.5h2M208 619.5h1M213 619.5h1M241 619.5h1M245 619.5h4M265 619.5h4M279 619.5h2M285 619.5h4M293 619.5h4M300 619.5h2M309 619.5h1M120 610.5h1M127 610.5h2M143 610.5h6M188 610.5h1M514 648.5h2M545 648.5h4M561 648.5h4M553 650.5h4M500 638.5h1M664 638.5h2M800 638.5h2M814 638.5h2M887 638.5h1M905 638.5h3"/>
<text x="1208.5" y="24" class="n">1878.90</text>
<text x="1208.5" y="57" class="n">1869.65</text>
<text x="1208.5" y="90" class="n">1860.40</text>
<text x="1208.5" y="123" class="n">1851.40</text>
<text x="1208.5" y="156" class="n">1842.15</text>
<text x="1208.5" y="189" class="n">1832.90</text>
<text x="1208.5" y="222" class="n">1823.90</text>
<text x="1208.5" y="255" class="n">1814.65</text>
<text x="1208.5" y="288" class="n">1805.40</text>
<text x="1208.5" y="321" class="n">1796.40</text>
<text x="1208.5" y="354" class="n">1787.15</text>
<text x="1208.5" y="387" class="n">1777.90</text>
<text x="1208.5" y="420" class="n">1768.65</text>
<text x="1208.5" y="453" class="n">1759.65</text>
<g shape-rendering="crispEdges">
<rect x="1205" y="357" width="39" height="11" fill="#000"/>
</g>
<text x="1208" y="366" class="w">1783.92</text>
<g shape-rendering="crispEdges">
<rect x="1205" y="244" width="39" height="11" fill="#ff0000"/>
<rect x="1205" y="298" width="39" height="11" fill="#ff0000"/>
<rect x="1205" y="352" width="39" height="11" fill="#00cc00"/>
<rect x="1205" y="431" width="39" height="11" fill="#4150e6"/>
</g>
<text x="1208" y="253" class="w">1815.00</text>
<text x="1208" y="307" class="w">1800.00</text>
<text x="1208" y="361" class="w">1785.00</text>
<text x="1208" y="440" class="w">1763.00</text>
<text x="1206.5" y="465" class="n">16.277</text>
<text x="1206" y="520" class="n">0.00</text>
<text x="1206.3" y="585" class="n">-19.389</text>
<text x="1206" y="601">100</text>
<text x="1205" y="617">70</text>
<text x="1205" y="646">30</text>
<text x="1206" y="661">0</text>
<text x="16" y="16" style="letter-spacing:0.1px">XAUUSD-,H4</text>
<text x="79.8" y="16" class="n">1770.64</text>
<text x="115.8" y="16" class="n">1784.50</text>
<text x="152.1" y="16" class="n">1769.66</text>
<text x="187.7" y="16" class="n">1783.92</text>
<text x="6" y="467">MACD(12,26,9) -4.664 -5.968</text>
<text x="5.3" y="603" style="letter-spacing:-0.1px">RSI(14) 53.3606</text>
<text x="1" y="677" style="letter-spacing:0.1px">8 Nov 2021</text>
<text x="65" y="677" style="letter-spacing:0.1px">9 Nov 08:00</text>
<text x="129" y="677" style="letter-spacing:0.1px">10 Nov 16:00</text>
<text x="193" y="677" style="letter-spacing:0.1px">12 Nov 00:00</text>
<text x="257" y="677" style="letter-spacing:0.1px">15 Nov 08:00</text>
<text x="321" y="677" style="letter-spacing:0.1px">16 Nov 16:00</text>
<text x="385" y="677" style="letter-spacing:0.1px">18 Nov 00:00</text>
<text x="449" y="677" style="letter-spacing:0.1px">19 Nov 08:00</text>
<text x="513" y="677" style="letter-spacing:0.1px">22 Nov 16:00</text>
<text x="577" y="677" style="letter-spacing:0.1px">24 Nov 00:00</text>
<text x="641" y="677" style="letter-spacing:0.1px">25 Nov 08:00</text>
<text x="705" y="677" style="letter-spacing:0.1px">26 Nov 16:00</text>
<text x="769" y="677" style="letter-spacing:0.1px">30 Nov 00:00</text>
<text x="833" y="677" style="letter-spacing:-0.09px">1 Dec 08:00</text>
<text x="897" y="677" style="letter-spacing:-0.09px">2 Dec 16:00</text>
<text class="big" x="788.4" y="180.3" letter-spacing="1.9" style="font-size:38.5px">多空转折点</text>
<text class="big" x="980.4 996.9 1019.4 1043.1" y="180.6" style="font-size:41.3px;stroke:#fff;stroke-width:0.45px">1785</text>
</svg></body></html>
